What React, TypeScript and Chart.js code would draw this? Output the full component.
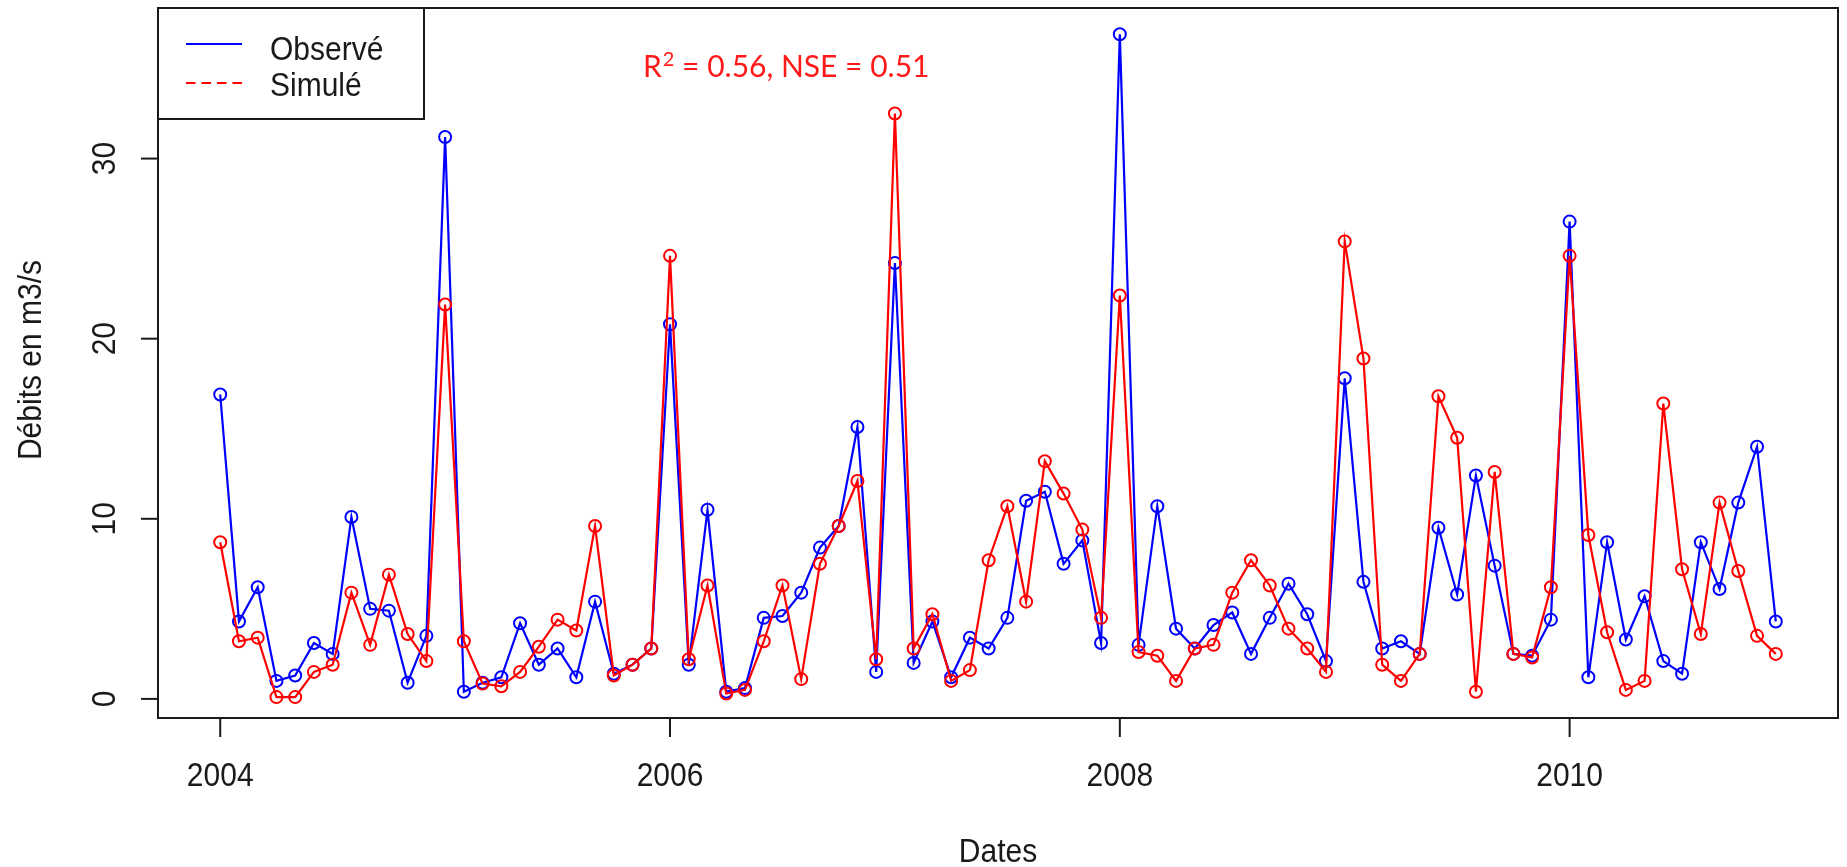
import React, { useEffect, useRef } from "react";
import { Chart, registerables } from "chart.js";

Chart.register(...registerables);

// ---- Data (monthly, Jan 2004 - Dec 2010) ----
const START_YEAR = 2004;

const observed = [
  16.9, 4.3, 6.2, 1.0, 1.3, 3.1, 2.5, 10.1, 5.0, 4.9, 0.9, 3.5,
  31.2, 0.4, 0.9, 1.2, 4.2, 1.9, 2.8, 1.2, 5.4, 1.4, 1.9, 2.8,
  20.8, 1.9, 10.5, 0.4, 0.6, 4.5, 4.6, 5.9, 8.4, 9.6, 15.1, 1.5,
  24.2, 2.0, 4.3, 1.2, 3.4, 2.8, 4.5, 11.0, 11.5, 7.5, 8.8, 3.1,
  36.9, 3.0, 10.7, 3.9, 2.8, 4.1, 4.8, 2.5, 4.5, 6.4, 4.7, 2.1,
  17.8, 6.5, 2.8, 3.2, 2.5, 9.5, 5.8, 12.4, 7.4, 2.5, 2.4, 4.4,
  26.5, 1.2, 8.7, 3.3, 5.7, 2.1, 1.4, 8.7, 6.1, 10.9, 14.0, 4.3,
];

const simulated = [
  8.7, 3.2, 3.4, 0.1, 0.1, 1.5, 1.9, 5.9, 3.0, 6.9, 3.6, 2.1,
  21.9, 3.2, 0.85, 0.7, 1.5, 2.9, 4.4, 3.8, 9.6, 1.3, 1.9, 2.8,
  24.6, 2.2, 6.3, 0.3, 0.5, 3.2, 6.3, 1.1, 7.5, 9.6, 12.1, 2.2,
  32.5, 2.8, 4.7, 1.0, 1.6, 7.7, 10.7, 5.4, 13.2, 11.4, 9.4, 4.5,
  22.4, 2.6, 2.4, 1.0, 2.8, 3.0, 5.9, 7.7, 6.3, 3.9, 2.8, 1.5,
  25.4, 18.9, 1.9, 1.0, 2.5, 16.8, 14.5, 0.4, 12.6, 2.5, 2.3, 6.2,
  24.6, 9.1, 3.7, 0.5, 1.0, 16.4, 7.2, 3.6, 10.9, 7.1, 3.5, 2.5,
];

const xTicks = [2004, 2006, 2008, 2010];
const xTickLabels = ["2004", "2006", "2008", "2010"];
const yTicks = [0, 10, 20, 30];
const yTickLabels = ["0", "10", "20", "30"];
const seriesLabels = ["Observé", "Simulé"];
const seriesColors = ["#0000ff", "#ff0000"];
const xTitle = "Dates";
const yTitle = "Débits en m3/s";
const statsParts = ["R", "2", " = 0.56, NSE = 0.51"];

// ---- derived ----
const dates = observed.map((_, i) => START_YEAR + i / 12);
const xSpan = dates[dates.length - 1] - dates[0];
const X_MIN = dates[0] - 0.04 * xSpan;
const X_MAX = dates[dates.length - 1] + 0.04 * xSpan;
const obsMin = Math.min(...observed);
const obsMax = Math.max(...observed);
const Y_MIN = obsMin - 0.04 * (obsMax - obsMin);
const Y_MAX = obsMax + 0.04 * (obsMax - obsMin);

const FONT = "'Liberation Sans', Arial, sans-serif";
const SY = 1.13;

function stext(
  ctx: CanvasRenderingContext2D,
  text: string,
  x: number,
  y: number,
  rot: number,
  align: CanvasTextAlign
) {
  ctx.save();
  ctx.translate(x, y);
  if (rot) ctx.rotate(rot);
  ctx.scale(1, SY);
  ctx.textAlign = align;
  ctx.textBaseline = "alphabetic";
  ctx.fillText(text, 0, 0);
  ctx.restore();
}

const rStylePlugin = {
  id: "rStyle",
  afterDraw(chart: any) {
    const { ctx, chartArea: a, scales } = chart;
    const xs = scales.x;
    const ys = scales.y;
    ctx.save();
    ctx.strokeStyle = "#1a1a1a";
    ctx.fillStyle = "#1a1a1a";
    ctx.lineWidth = 2;
    ctx.setLineDash([]);
    // box
    ctx.strokeRect(a.left, a.top, a.right - a.left, a.bottom - a.top);
    ctx.font = `30px ${FONT}`;

    // y axis ticks
    yTicks.forEach((v, i) => {
      const py = ys.getPixelForValue(v);
      ctx.beginPath();
      ctx.moveTo(a.left - 17, py);
      ctx.lineTo(a.left, py);
      ctx.stroke();
      stext(ctx, yTickLabels[i], 115, py, -Math.PI / 2, "center");
    });
    // x axis ticks
    xTicks.forEach((v, i) => {
      const px = xs.getPixelForValue(v);
      ctx.beginPath();
      ctx.moveTo(px, a.bottom);
      ctx.lineTo(px, a.bottom + 19);
      ctx.stroke();
      stext(ctx, xTickLabels[i], px, 786, 0, "center");
    });
    // titles
    stext(ctx, xTitle, (a.left + a.right) / 2, 862, 0, "center");
    stext(ctx, yTitle, 41, 360, -Math.PI / 2, "center");

    // legend box
    ctx.fillStyle = "#ffffff";
    ctx.fillRect(a.left, a.top, 424 - a.left, 119 - a.top);
    ctx.strokeRect(a.left, a.top, 424 - a.left, 119 - a.top);
    ctx.lineWidth = 2;
    ctx.strokeStyle = seriesColors[0];
    ctx.beginPath();
    ctx.moveTo(186, 44);
    ctx.lineTo(242, 44);
    ctx.stroke();
    ctx.strokeStyle = seriesColors[1];
    ctx.setLineDash([9.5, 6]);
    ctx.beginPath();
    ctx.moveTo(186, 83);
    ctx.lineTo(242, 83);
    ctx.stroke();
    ctx.setLineDash([]);
    ctx.fillStyle = "#1a1a1a";
    ctx.font = `30px ${FONT}`;
    stext(ctx, seriesLabels[0], 270, 60, 0, "left");
    stext(ctx, seriesLabels[1], 270, 96, 0, "left");

    // stats annotation
    ctx.fillStyle = "#ff1a1a";
    ctx.textAlign = "left";
    ctx.textBaseline = "alphabetic";
    let x0 = 643;
    const base = 77;
    ctx.font = `30px Lato, 'Open Sans', sans-serif`;
    ctx.fillText(statsParts[0], x0, base);
    x0 += ctx.measureText(statsParts[0]).width + 1;
    ctx.font = `20px Lato, 'Open Sans', sans-serif`;
    ctx.fillText(statsParts[1], x0, base - 11);
    x0 += ctx.measureText(statsParts[1]).width;
    ctx.font = `30px Lato, 'Open Sans', sans-serif`;
    ctx.fillText(statsParts[2], x0, base);
    ctx.restore();
  },
};

export default function App() {
  const ref = useRef<HTMLCanvasElement | null>(null);

  useEffect(() => {
    if (!ref.current) return;
    const mk = (vals: number[]) => dates.map((d, i) => ({ x: d, y: vals[i] }));
    const chart = new Chart(ref.current, {
      type: "line",
      data: {
        datasets: [
          {
            label: seriesLabels[0],
            data: mk(observed),
            borderColor: seriesColors[0],
            borderWidth: 2.2,
            pointRadius: 6,
            pointBorderWidth: 2,
            pointBorderColor: seriesColors[0],
            pointBackgroundColor: "rgba(0,0,0,0)",
            fill: false,
            tension: 0,
            order: 2,
          },
          {
            label: seriesLabels[1],
            data: mk(simulated),
            borderColor: seriesColors[1],
            borderWidth: 2.2,
            pointRadius: 6,
            pointBorderWidth: 2,
            pointBorderColor: seriesColors[1],
            pointBackgroundColor: "rgba(0,0,0,0)",
            fill: false,
            tension: 0,
            order: 1,
          },
        ],
      },
      options: {
        responsive: false,
        devicePixelRatio: 1,
        animation: false,
        events: [],
        layout: { padding: { left: 158, right: 9, top: 7, bottom: 149 } },
        scales: {
          x: { type: "linear", min: X_MIN, max: X_MAX, display: false },
          y: { type: "linear", min: Y_MIN, max: Y_MAX, display: false },
        },
        plugins: {
          legend: { display: false },
          tooltip: { enabled: false },
        },
      },
      plugins: [rStylePlugin],
    });
    return () => chart.destroy();
  }, []);

  return (
    <div style={{ position: "absolute", left: 0, top: 0, width: 1847, height: 867, background: "#fff" }}>
      <canvas ref={ref} width={1847} height={867} style={{ display: "block" }} />
    </div>
  );
}
